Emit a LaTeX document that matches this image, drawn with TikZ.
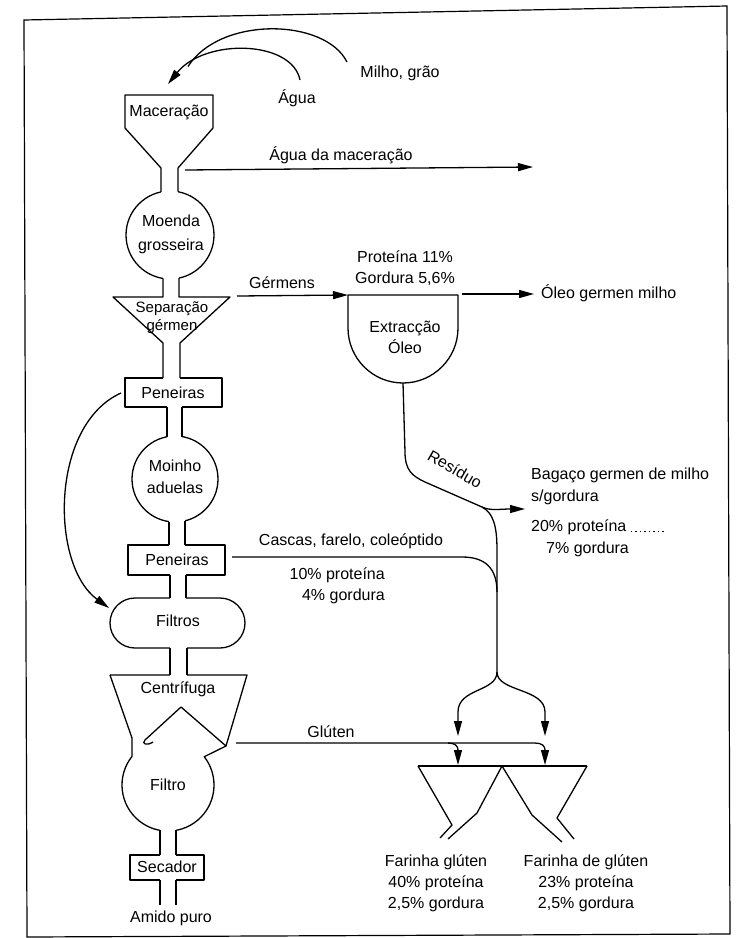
\documentclass[tikz,border=0pt]{standalone}
\usepackage{fontspec}
\setmainfont{Liberation Sans}
\usetikzlibrary{arrows.meta}
\begin{document}
\begin{tikzpicture}[x=1pt,y=-1pt,
  ln/.style={line width=1.3pt,line join=round},
  arr/.style={ln,-{Triangle[length=15pt,width=8pt]}},
  lbl/.style={inner sep=0pt,font=\fontsize{16}{21}\selectfont},
  wipe/.style={fill=white,draw=none}]
\useasboundingbox (0,0) rectangle (738,938);
% frame
\draw[line width=1.2pt] (24,20) -- (727,6) -- (730,934) -- (27,937) -- cycle;

% ---- column shapes ----
\draw[ln] (170,235) circle[radius=44];            % Moenda grosseira
\draw[ln] (125,378) rectangle (222,407);          % Peneiras 1
\draw[ln] (175,479) circle[radius=43];            % Moinho aduelas
\draw[ln] (128,545) rectangle (225,575);          % Peneiras 2
\draw[ln,rounded corners=25pt] (110,598) rectangle (245,648); % Filtros
\draw[ln] (130,855) rectangle (204,880);          % Secador
% Centrifuga + Filtro
\draw[ln] (110,675) -- (247,675) -- (226,746) -- (181,707) -- (145,740)
  .. controls (141,744) and (147,746) .. (153,742);
\draw[ln] (110,675) -- (132,738) -- (132,756.4)
  arc[start angle=218.5,end angle=-38,radius=46] -- (226,746);
% Extraccao Oleo
\coordinate (extTL) at (348,295);
\coordinate (extTR) at (458,295);
\coordinate (extB) at (403,383);
\draw[ln] (extTL) -- (348,328) arc[start angle=180,end angle=0,radius=55] -- (extTR) -- cycle;

% ---- necks (wipe the outline, then the two walls) ----
\fill[wipe] (161,186) rectangle (178,197);
\fill[wipe] (163,274) rectangle (179,283);
\fill[wipe] (163,375) rectangle (180,381);
\fill[wipe] (167,404) rectangle (182,441);
\fill[wipe] (169,517) rectangle (185,548);
\fill[wipe] (170,572) rectangle (186,601);
\fill[wipe] (170,645) rectangle (187,678);
\fill[wipe] (160,826) rectangle (176,858);
\fill[wipe] (160,877) rectangle (176,884);
% Maceracao hopper
\draw[ln] (161,191.9) -- (161,168) -- (125,128) -- (125,95) -- (213,95) -- (213,128) -- (178,168) -- (178,191.7);
% Separacao germen
\draw[ln] (163,278.4) -- (163,297) -- (113,297) -- (163,343) -- (163,378);
\draw[ln] (179,278.1) -- (179,297) -- (230,297) -- (180,343) -- (180,378);
\draw[ln] (167,407) -- (167,436.8) (182,407) -- (182,436.6);
\draw[ln] (169,521.6) -- (169,545) (185,520.8) -- (185,545);
\draw[ln] (170,575) -- (170,598) (186,575) -- (186,598);
\draw[ln] (170,648) -- (170,675) (187,648) -- (187,675);
\draw[ln] (160,830.3) -- (160,855) (176,830.3) -- (176,855);
\draw[ln] (160,880) -- (160,905) (176,880) -- (176,905);

% ---- labels ----
\node[lbl] (milho) at (400,73) {Milho, grão};
\node[lbl] (agua) at (297,98) {Água};
\node[lbl] (macer) at (169,112) {Maceração};
\node[lbl] (aguamac) at (341,155) {Água da maceração};
\node[lbl,align=center,font=\fontsize{16}{24}\selectfont] (moenda) at (171,234) {Moenda\\grosseira};
\node[lbl,align=center,font=\fontsize{15}{18}\selectfont] (sep) at (172,318) {Separação\\gérmen};
\node[lbl] (germens) at (282,283) {Gérmens};
\node[lbl,align=center] (prot) at (405,268) {Proteína 11\%\\Gordura 5,6\%};
\node[lbl,align=center] (extr) at (405,337) {Extracção\\Óleo};
\node[lbl,anchor=west] (oleo) at (541,293) {Óleo germen milho};
\node[lbl] (pen1) at (173,393) {Peneiras};
\node[lbl,align=center,font=\fontsize{16}{22}\selectfont] (moinho) at (175,477) {Moinho\\aduelas};
\node[lbl] (pen2) at (177,560) {Peneiras};
\node[lbl] (filtros) at (178,621) {Filtros};
\node[lbl] (centr) at (178,689) {Centrífuga};
\node[lbl] (filtro) at (168,785) {Filtro};
\node[lbl] (secador) at (167,867) {Secador};
\node[lbl] (amido) at (171,918) {Amido puro};
\node[lbl] (cascas) at (351,541) {Cascas, farelo, coleóptido};
\node[lbl,align=right,anchor=east] (cascasp) at (385,586) {10\% proteína\\4\% gordura};
\node[lbl,rotate=-30] (resid) at (455,469) {Resíduo};
\node[lbl,anchor=west,align=left,font=\fontsize{16}{22}\selectfont] (bagaco) at (531,486) {Bagaço germen de milho\\s/gordura};
\node[lbl,anchor=west] (p20) at (531,527) {20\% proteína};
\node[lbl,anchor=west] (g7) at (546,549) {7\% gordura};
\node[lbl] (gluten) at (331,732) {Glúten};
\node[lbl,align=center] (far1) at (436,883) {Farinha glúten\\40\% proteína\\2,5\% gordura};
\node[lbl,align=center] (far2) at (586,883) {Farinha de glúten\\23\% proteína\\2,5\% gordura};
\draw[line width=1pt,dash pattern=on 1.5pt off 3pt] (p20.base east) ++(4,0) -- ++(34,0);

% ---- connectors ----
\coordinate (aguaS) at (300,80);
\coordinate (macIn) at (168,84);
\coordinate (milhoS) at (347,62);
\coordinate (merge) at (188,66.5);
\draw[arr] (aguaS) .. controls (292,40) and (205,38) .. (macIn);
\draw[ln] (milhoS) .. controls (325,18) and (220,16) .. (merge);

\coordinate (macOut) at (185,170);
\coordinate (macEnd) at (533,167);
\draw[arr] (macOut) -- (macEnd);

\coordinate (sepOut) at (237,296);
\draw[arr] (sepOut) -- (extTL);
\coordinate (oleoS) at (462,294);
\coordinate (oleoE) at (534,294);
\draw[arr] (oleoS) -- (oleoE);

\coordinate (pen1W) at (121,393);
\coordinate (filtrosW) at (109,608);
\draw[arr] (pen1W) .. controls (50,425) and (50,565) .. (filtrosW);

\coordinate (rsplit) at (482,507);
\coordinate (bagArr) at (525,509);
\coordinate (ysplit) at (497,672);
\draw[ln] (extB) -- (405,452) .. controls (405,470) and (412,476) .. (425,482) -- (rsplit);
\draw[arr] (rsplit) .. controls (490,511) and (500,509) .. (bagArr);
\draw[ln] (rsplit) .. controls (493,513) and (497,525) .. (497,550) -- (ysplit);

\coordinate (pen2E) at (232,557);
\draw[ln] (pen2E) -- (462,557) .. controls (485,557) and (497,568) .. (497,592);

\coordinate (t1) at (458,736);
\coordinate (t2) at (545,736);
\draw[arr] (ysplit) .. controls (497,692) and (458,688) .. (458,712) -- (t1);
\draw[arr] (ysplit) .. controls (497,692) and (545,688) .. (545,712) -- (t2);

\coordinate (glS) at (236,743);
\coordinate (glM) at (448,743);
\coordinate (f1top) at (458,765);
\coordinate (f2top) at (545,765);
\draw[arr] (glS) -- (glM) .. controls (455,743) and (458,746) .. (458,750) -- (f1top);
\draw[arr] (glM) -- (535,743) .. controls (542,743) and (545,746) .. (545,750) -- (f2top);

% ---- funnels ----
\draw[ln] (418,766) -- (587,766);
\draw[ln] (418,766) -- (452,825) -- (440,838);
\draw[ln] (502,766) -- (477,813) -- (448,839);
\draw[ln] (502,766) -- (532,815) -- (562,842);
\draw[ln] (587,766) -- (557,818) -- (574,839);
\end{tikzpicture}
\end{document}
